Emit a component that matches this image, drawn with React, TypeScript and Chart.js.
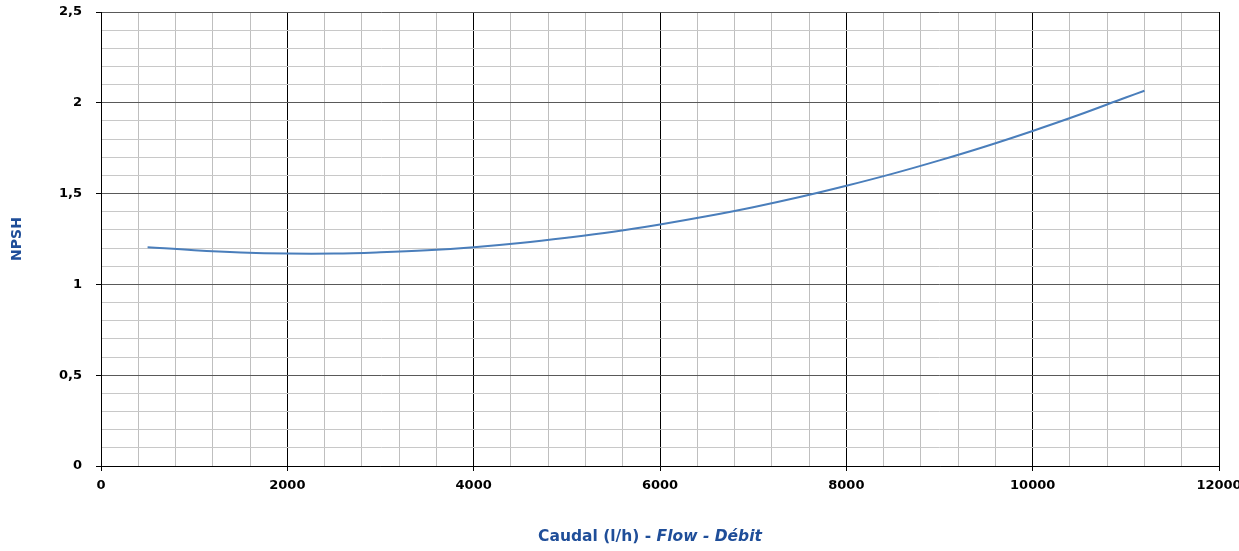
import React, { useEffect, useRef } from "react";
import { Chart, registerables } from "chart.js";

Chart.register(...registerables);

const flowValues = [500, 1000, 1500, 2000, 2500, 3000, 3500, 4000, 4500, 5000, 5500, 6000, 6500, 7000, 7500, 8000, 8500, 9000, 9500, 10000, 10500, 11000, 11200];
const npshValues = [1.205, 1.188, 1.176, 1.170, 1.170, 1.177, 1.188, 1.205, 1.228, 1.257, 1.290, 1.330, 1.375, 1.425, 1.481, 1.543, 1.610, 1.683, 1.761, 1.845, 1.934, 2.029, 2.066];

const xMin = 0;
const xMax = 12000;
const xMinorStep = 400;
const xMajorStep = 2000;
const yMin = 0;
const yMax = 2.5;
const yMinorStep = 0.1;
const yMajorStep = 0.5;

const yTitle = "NPSH";
const xTitlePlain = "Caudal (l/h) - ";
const xTitleItalic = "Flow - Débit";

const isMajor = (v: number, step: number) => Math.abs(v / step - Math.round(v / step)) < 1e-6;

export default function App() {
  const canvasRef = useRef<HTMLCanvasElement | null>(null);

  useEffect(() => {
    if (!canvasRef.current) return;
    const titleColor = "#1F4E99";
    const tickFont = { family: "'DejaVu Sans', Verdana, sans-serif", size: 13, weight: "bold" as const };

    const xTitlePlugin = {
      id: "xTitlePlugin",
      afterDraw(chart: any) {
        const { ctx, chartArea } = chart;
        ctx.save();
        ctx.fillStyle = titleColor;
        ctx.textBaseline = "middle";
        ctx.textAlign = "left";
        const fPlain = "bold 15.5px 'DejaVu Sans', sans-serif";
        const fItalic = "italic bold 15.5px 'DejaVu Sans', sans-serif";
        ctx.font = fPlain;
        const w1 = ctx.measureText(xTitlePlain).width;
        ctx.font = fItalic;
        const w2 = ctx.measureText(xTitleItalic).width;
        const cx = (chartArea.left + chartArea.right) / 2 - 10;
        const x0 = cx - (w1 + w2) / 2;
        const y = 537;
        ctx.font = fPlain;
        ctx.fillText(xTitlePlain, x0, y);
        ctx.font = fItalic;
        ctx.fillText(xTitleItalic, x0 + w1, y);
        ctx.restore();
      },
    };

    const chart = new Chart(canvasRef.current, {
      type: "line",
      data: {
        datasets: [
          {
            label: "NPSH",
            data: flowValues.map((x, i) => ({ x, y: npshValues[i] })),
            borderColor: "#4A7EBB",
            borderWidth: 2,
            pointRadius: 0,
            tension: 0.4,
            fill: false,
          },
        ],
      },
      options: {
        animation: false,
        responsive: true,
        maintainAspectRatio: false,
        layout: { padding: { left: 0, right: 20, top: 12, bottom: 0 } },
        plugins: {
          legend: { display: false },
          tooltip: { enabled: false },
        },
        scales: {
          x: {
            type: "linear",
            min: xMin,
            max: xMax,
            ticks: {
              stepSize: xMinorStep,
              autoSkip: false,
              maxRotation: 0,
              padding: 7,
              color: "#000",
              font: tickFont,
              callback: (v: any) => (isMajor(Number(v), xMajorStep) ? String(v) : ""),
            },
            grid: {
              color: (ctx: any) => (isMajor(ctx.tick.value, xMajorStep) ? "#000000" : "#BFBFBF"),
              tickColor: (ctx: any) => (isMajor(ctx.tick.value, xMajorStep) ? "#000000" : "rgba(0,0,0,0)"),
              lineWidth: 1,
              tickLength: 5,
            },
            border: { color: "#000000", width: 1 },
            afterFit: (scale: any) => {
              scale.height = 85;
              scale.paddingLeft = 0;
              scale.paddingRight = 0;
            },
          },
          y: {
            type: "linear",
            min: yMin,
            max: yMax,
            ticks: {
              stepSize: yMinorStep,
              autoSkip: false,
              padding: 14,
              color: "#000",
              font: tickFont,
              callback: (v: any) => {
                const n = Number(v);
                if (!isMajor(n, yMajorStep)) return "";
                return String(Math.round(n * 10) / 10).replace(".", ",");
              },
            },
            grid: {
              color: (ctx: any) => (isMajor(ctx.tick.value, yMajorStep) ? "#595959" : "#C8C8C8"),
              tickColor: (ctx: any) => (isMajor(ctx.tick.value, yMajorStep) ? "#000000" : "rgba(0,0,0,0)"),
              lineWidth: 1,
              tickLength: 5,
            },
            border: { color: "#000000", width: 1 },
            title: {
              display: true,
              text: yTitle,
              color: titleColor,
              font: { family: "'DejaVu Sans', sans-serif", size: 14, weight: "bold" },
              padding: { top: 9, bottom: 0 },
            },
            afterFit: (scale: any) => {
              scale.width = 101;
              scale.paddingTop = 0;
              scale.paddingBottom = 0;
            },
          },
        },
      } as any,
      plugins: [xTitlePlugin],
    });

    return () => chart.destroy();
  }, []);

  return (
    <div style={{ position: "absolute", left: 0, top: 0, width: 1239, height: 551, background: "#fff" }}>
      <canvas ref={canvasRef} />
    </div>
  );
}
